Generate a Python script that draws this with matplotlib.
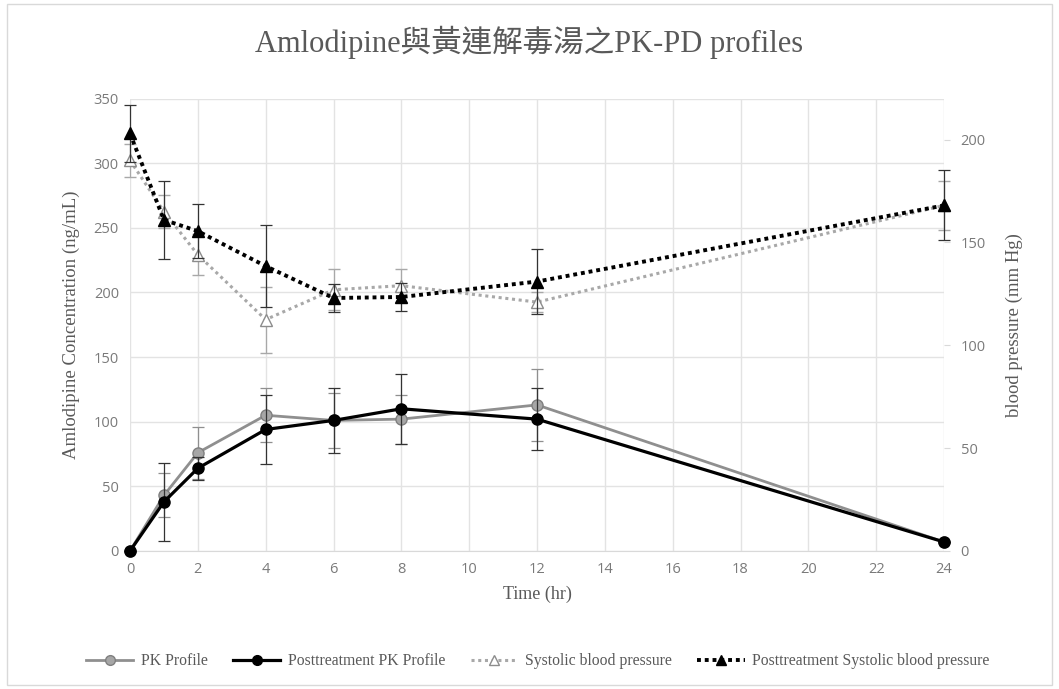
import matplotlib
matplotlib.use("Agg")
import matplotlib.pyplot as plt
from matplotlib.patches import Rectangle
from matplotlib.lines import Line2D

plt.rcParams['font.family'] = ['Liberation Serif', 'Noto Sans CJK TC', 'DejaVu Sans']

# Sampling times (hr)
time_hr = [0, 1, 2, 4, 6, 8, 12, 24]

# Amlodipine plasma concentration (ng/mL), mean and SD
pk_mean = [0, 43, 76, 105, 101, 102, 113, 7]
pk_sd = [0, 17, 20, 21, 21, 19, 28, 0]
post_pk_mean = [0, 38, 64, 94, 101, 110, 102, 7]
post_pk_sd = [0, 30, 9, 27, 25, 27, 24, 0]

# Systolic blood pressure (mm Hg), mean and SD
sbp_mean = [190, 165, 144, 112.5, 127, 129, 121, 168]
sbp_sd = [8, 8, 10, 16, 10, 8, 5, 12]
post_sbp_mean = [203, 161, 155.5, 138.5, 123, 123.5, 131, 168]
post_sbp_sd = [14, 19, 13, 20, 7, 7, 16, 17]

x_ticks = list(range(0, 25, 2))
left_ticks = list(range(0, 351, 50))
right_ticks = list(range(0, 201, 50))

text_gray = '#595959'
grid_gray = '#e3e3e3'
light = '#8f8f8f'
lighter = '#a8a8a8'


def unclip(container):
    line, caps, bars = container
    line.set_clip_on(False)
    for c in caps:
        c.set_clip_on(False)
    for b in bars:
        b.set_clip_on(False)


fig = plt.figure(figsize=(10.59, 6.89), dpi=100)
fig.patches.append(Rectangle((0.007, 0.006), 0.986, 0.988, transform=fig.transFigure,
                             fill=False, edgecolor='#d9d9d9', linewidth=1.0))

W, H = 1059, 689
ax = fig.add_axes([130 / W, 1 - 551 / H, (944 - 130) / W, (551 - 98.5) / H])
ax2 = ax.twinx()

# Concentration profiles (left axis)
unclip(ax.errorbar(time_hr, pk_mean, yerr=pk_sd, color=light, linewidth=2, marker='o',
                   markersize=8, markerfacecolor='#a6a6a6', markeredgecolor='#7f7f7f',
                   ecolor=light, elinewidth=0.9, capsize=4, capthick=0.9, zorder=3))
unclip(ax.errorbar(time_hr, post_pk_mean, yerr=post_pk_sd, color='black', linewidth=2.3,
                   marker='o', markersize=8, markerfacecolor='black', markeredgecolor='black',
                   ecolor='#333333', elinewidth=0.9, capsize=4, capthick=0.9, zorder=4))

# Blood pressure profiles (right axis)
unclip(ax2.errorbar(time_hr, sbp_mean, yerr=sbp_sd, color=lighter, linewidth=2.2,
                    linestyle=(0, (1, 1.2)), marker='^', markersize=9, markerfacecolor='white',
                    markeredgecolor='#8c8c8c', markeredgewidth=1.0, ecolor=lighter,
                    elinewidth=0.9, capsize=4, capthick=0.9, zorder=3))
unclip(ax2.errorbar(time_hr, post_sbp_mean, yerr=post_sbp_sd, color='black', linewidth=2.8,
                    linestyle=(0, (1, 1.0)), marker='^', markersize=9, markerfacecolor='black',
                    markeredgecolor='black', ecolor='#333333', elinewidth=0.9, capsize=4,
                    capthick=0.9, zorder=4))

ax.set_xlim(0, 24)
ax.set_ylim(0, 350)
ax2.set_ylim(0, 220)
ax.set_xticks(x_ticks)
ax.set_yticks(left_ticks)
ax2.set_yticks(right_ticks)

ax.grid(True, color=grid_gray, linewidth=1.0)
ax.set_axisbelow(True)

for a in (ax, ax2):
    for s in a.spines.values():
        s.set_visible(False)
ax.spines['bottom'].set_visible(True)
ax.spines['bottom'].set_color('#d9d9d9')

ax.tick_params(axis='both', length=0, colors=text_gray, pad=8)
ax2.tick_params(axis='y', length=4, color='#d9d9d9', colors=text_gray, pad=8)
for lab in ax.get_xticklabels() + ax.get_yticklabels() + ax2.get_yticklabels():
    lab.set_fontfamily(['Open Sans', 'DejaVu Sans'])
    lab.set_fontsize(10.5)
    lab.set_color('#7a7a7a')

ax.set_xlabel('Time (hr)', fontsize=13, color=text_gray, labelpad=6)
ax.set_ylabel('Amlodipine Concentration (ng/mL)', fontsize=13.5, color=text_gray, labelpad=10)
ax2.set_ylabel('blood pressure (mm Hg)', fontsize=13.5, color=text_gray, labelpad=14)

fig.text(0.5, 1 - 42 / H, 'Amlodipine與黃連解毒湯之PK-PD profiles', ha='center', va='center',
         fontsize=22, color=text_gray)

handles = [
    Line2D([], [], color=light, linewidth=2, marker='o', markersize=7,
           markerfacecolor='#a6a6a6', markeredgecolor='#7f7f7f'),
    Line2D([], [], color='black', linewidth=2.3, marker='o', markersize=7,
           markerfacecolor='black'),
    Line2D([], [], color=lighter, linewidth=2.2, linestyle=(0, (1, 1.2)), marker='^',
           markersize=7, markerfacecolor='white', markeredgecolor='#8c8c8c'),
    Line2D([], [], color='black', linewidth=2.8, linestyle=(0, (1, 1.0)), marker='^',
           markersize=7, markerfacecolor='black'),
]
labels = ['PK Profile', 'Posttreatment PK Profile', 'Systolic blood pressure',
          'Posttreatment Systolic blood pressure']
leg = fig.legend(handles, labels, loc='center', bbox_to_anchor=(0.508, 1 - 661 / H), ncol=4,
                 frameon=False, fontsize=11.3, handlelength=3.0, columnspacing=1.6,
                 handletextpad=0.5)
for t in leg.get_texts():
    t.set_color(text_gray)

fig.savefig('out.png', dpi=100)
